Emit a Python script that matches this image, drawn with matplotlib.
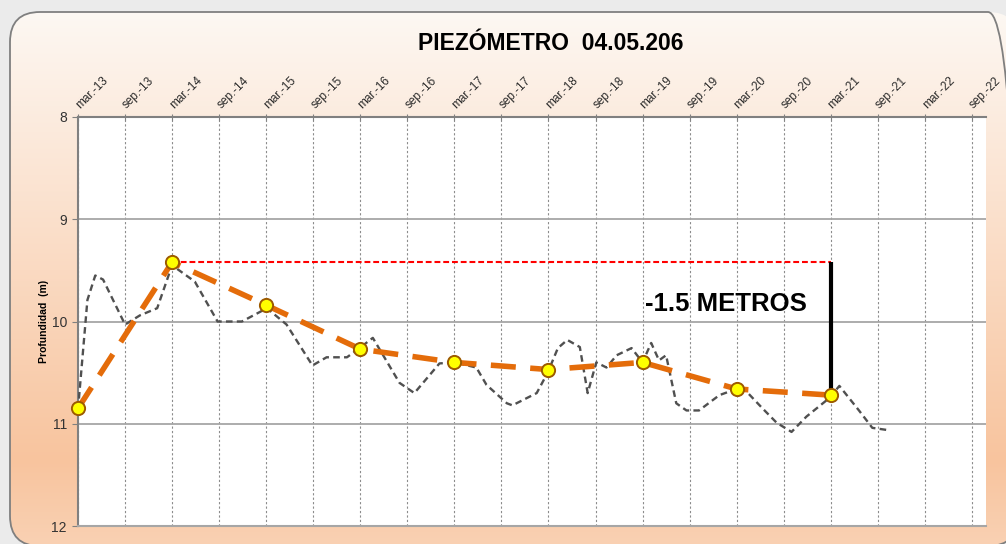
import numpy as np
import matplotlib
matplotlib.use("Agg")
import matplotlib.pyplot as plt
import matplotlib.transforms as mtransforms
from matplotlib.patches import FancyBboxPatch

plt.rcParams['font.family'] = ['Liberation Sans', 'DejaVu Sans']

# monthly readings (months counted from mar-2013), depth in m
months = [0, 1.2, 2.2, 3.2, 6.0, 7.9, 10.1, 12.0, 14.9, 17.8, 20.9, 24.1,
          26.6, 29.9, 31.7, 34.3, 35.9, 37.6, 41.0, 42.9, 46.1, 48.0, 50.8,
          52.1, 54.7, 55.4, 58.5, 59.9, 61.2, 62.4, 64.0, 65.0, 66.1, 67.4,
          68.7, 70.6, 72.0, 73.1, 74.1, 75.0, 76.3, 77.6, 79.2, 81.8, 84.7,
          87.3, 89.1, 91.0, 92.9, 95.8, 97.1, 99.6, 101.3, 103.1]
depth = [10.86, 9.79, 9.55, 9.59, 10.03, 9.94, 9.87, 9.45, 9.61, 10.0, 10.0,
         9.87, 10.03, 10.43, 10.35, 10.35, 10.26, 10.16, 10.60, 10.70, 10.41,
         10.40, 10.45, 10.62, 10.80, 10.82, 10.70, 10.50, 10.26, 10.18, 10.25,
         10.70, 10.40, 10.45, 10.33, 10.26, 10.40, 10.21, 10.38, 10.33, 10.80,
         10.87, 10.87, 10.72, 10.64, 10.85, 10.99, 11.08, 10.93, 10.75, 10.63,
         10.87, 11.04, 11.06]

# yearly (march) readings
year_months = [0, 12, 24, 36, 48, 60, 72, 84, 96]
year_depth = [10.85, 9.42, 9.84, 10.27, 10.40, 10.47, 10.40, 10.66, 10.72]

tick_months = list(range(0, 115, 6))
tick_labels = []
for yy in range(13, 23):
    tick_labels += ["mar.-%d" % yy, "sep.-%d" % yy]

ref_level = 9.42
ref_start, ref_end = 12, 96
note_text = "-1.5 METROS"

W, H = 1006, 544
fig = plt.figure(figsize=(W / 100, H / 100), dpi=100)
fig.patch.set_facecolor("#ebebeb")

# rounded panel with vertical gradient (pixel coords, y up)
bg = fig.add_axes([0, 0, 1, 1], zorder=-5)
bg.axis("off")
rows = np.arange(H)  # row 0 = top of image
t = np.clip((rows - 10) / 450, 0, 1)
t = np.where(rows > 460, 1 - 0.25 * (rows - 460) / 84, t)
c0 = np.array([253, 248, 243]) / 255
c1 = np.array([248, 196, 158]) / 255
grad = c0[None, :] * (1 - t[:, None]) + c1[None, :] * t[:, None]
img = np.repeat(grad[:, None, :], W, axis=1)
im = bg.imshow(img, extent=(0, W, 0, H), origin="upper", aspect="auto", zorder=1)
box = FancyBboxPatch((10, -2), 1008, H - 10, boxstyle="round,pad=0,rounding_size=30",
                     facecolor="none", edgecolor="#7f7f7f", lw=1.3, zorder=3,
                     clip_on=False)
bg.add_patch(box)
im.set_clip_path(box)
bg.set_xlim(0, W)
bg.set_ylim(0, H)

ax = fig.add_axes([78 / W, 1 - 526 / H, (986 - 78) / W, (526 - 117) / H])
ax.set_facecolor("white")

ax.plot(months, depth, color="#505050", lw=1.7, dashes=(2.8, 1.8), zorder=3)
ax.plot(year_months, year_depth, color="#e46c0a", lw=4, dashes=(4.5, 2.6),
        zorder=4)
ax.plot([ref_start, ref_end], [ref_level, ref_level], color="#ff0000", lw=1.5,
        dashes=(2.8, 1.4), zorder=5)
ax.plot([ref_end, ref_end], [ref_level, year_depth[-1]], color="black", lw=3,
        solid_capstyle="butt", zorder=5)
ax.plot(year_months, year_depth, ls="none", marker="o", ms=9.5,
        mfc="#ffff00", mec="#9c5a00", mew=1.4, zorder=6, clip_on=False)
ax.text(82.6, 9.83, note_text, fontsize=18.5, fontweight="bold", ha="center",
        va="center", color="black", zorder=7)

ax.set_xlim(0, 115.8)
ax.set_ylim(12, 8)
ax.set_yticks([8, 9, 10, 11, 12])
ax.set_xticks(tick_months)
ax.set_xticklabels(tick_labels)
ax.xaxis.tick_top()
ax.tick_params(axis="x", direction="inout", length=5, color="#808080",
               labelsize=8.5, labelcolor="#2a2a2a", pad=2)
ax.tick_params(axis="y", direction="out", length=4, color="#808080",
               labelsize=10, labelcolor="#333333", pad=4)
shift = mtransforms.ScaledTranslation(4 / 100, 0, fig.dpi_scale_trans)
for lab in ax.get_xticklabels():
    lab.set_rotation(45)
    lab.set_ha("left")
    lab.set_rotation_mode("anchor")
    lab.set_transform(lab.get_transform() + shift)

for v in tick_months:
    ax.axvline(v, color="#8c8c8c", lw=0.8, dashes=(2, 2), zorder=1)
for v in [9, 10, 11]:
    ax.axhline(v, color="#a6a6a6", lw=1.3, zorder=1)

for s in ["left", "top"]:
    ax.spines[s].set_color("#808080")
    ax.spines[s].set_linewidth(1.5)
ax.spines["bottom"].set_color("#a6a6a6")
ax.spines["bottom"].set_linewidth(1.5)
ax.spines["right"].set_visible(False)

ax.set_ylabel("Profundidad  (m)", fontsize=7.5, fontweight="bold", labelpad=2)
fig.text(551 / W, 1 - 44 / H, "PIEZÓMETRO  04.05.206", fontsize=16.5,
         fontweight="bold", ha="center", va="center")

fig.savefig("out.png", dpi=100, facecolor=fig.get_facecolor())
